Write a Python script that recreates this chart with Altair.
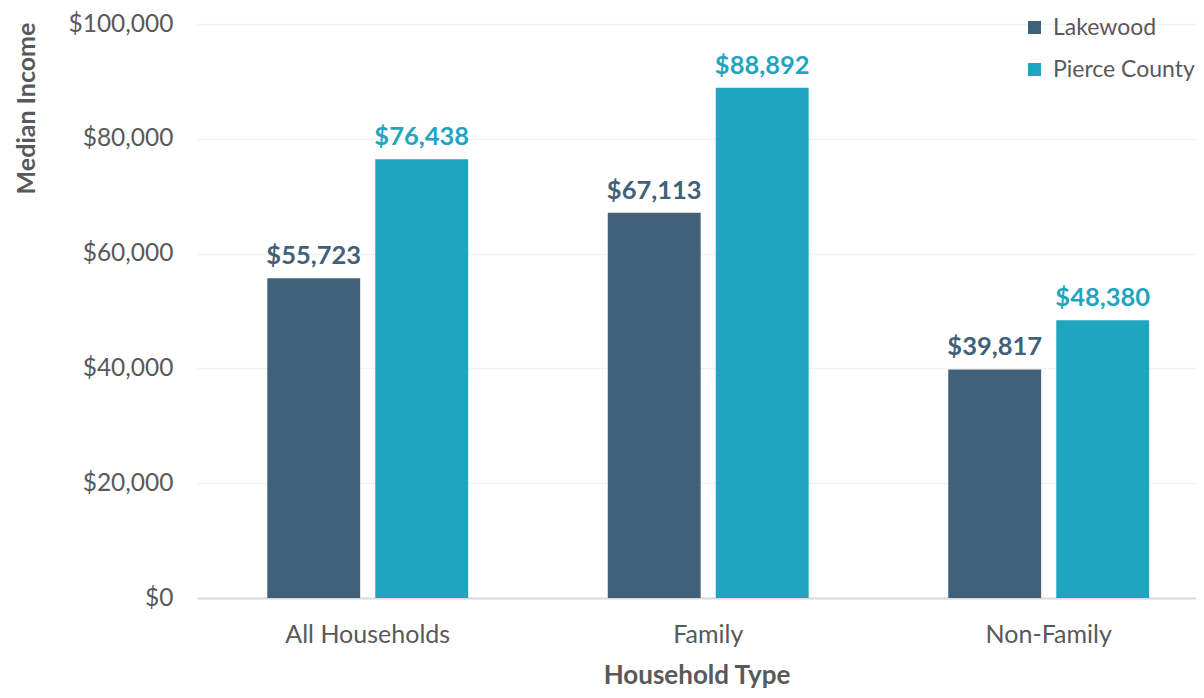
import altair as alt
import pandas as pd

categories = ["All Households", "Family", "Non-Family"]
series = ["Lakewood", "Pierce County"]
lakewood = [55723, 67113, 39817]
pierce = [76438, 88892, 48380]
colors = ["#41607a", "#1fa5bf"]

rows = []
for c, lv, pv in zip(categories, lakewood, pierce):
    rows.append({"type": c, "series": series[0], "value": lv})
    rows.append({"type": c, "series": series[1], "value": pv})
df = pd.DataFrame(rows)

FONT = "Lato"
GRAY = "#595959"

color_scale = alt.Scale(domain=series, range=colors)

base = alt.Chart(df).encode(
    x=alt.X(
        "type:N",
        sort=categories,
        scale=alt.Scale(paddingInner=0.41, paddingOuter=0.172, align=0.6),
        axis=alt.Axis(
            title="Household Type",
            labelAngle=0,
            labelFontSize=25,
            labelColor=GRAY,
            labelFont=FONT,
            labelPadding=24,
            titleFontSize=26,
            titleFont=FONT,
            titleFontWeight="bold",
            titleColor=GRAY,
            titlePadding=15,
            ticks=False,
            domainColor="#d9d9d9",
            domainWidth=2,
            grid=False,
        ),
    ),
    xOffset=alt.XOffset("series:N", sort=series, scale=alt.Scale(paddingInner=0.14)),
    y=alt.Y(
        "value:Q",
        scale=alt.Scale(domain=[0, 100000]),
        axis=alt.Axis(
            title="Median Income",
            values=[0, 20000, 40000, 60000, 80000, 100000],
            format="$,.0f",
            labelFontSize=24.5,
            labelColor=GRAY,
            labelFont=FONT,
            labelPadding=24,
            ticks=False,
            domain=False,
            gridColor="#f2f2f2",
            gridWidth=1.5,
            titleFontSize=25,
            titleFont=FONT,
            titleFontWeight="bold",
            titleColor=GRAY,
            titleX=-171,
            titleY=84,
            titleAlign="center",
            titleBaseline="middle",
            titleAngle=270,
        ),
    ),
)

bars = base.mark_bar().encode(
    color=alt.Color(
        "series:N",
        scale=color_scale,
        sort=series,
        legend=alt.Legend(
            title=None,
            orient="none",
            legendX=826,
            legendY=-8,
            symbolType="square",
            symbolSize=170,
            symbolStrokeWidth=0,
            labelFontSize=23,
            labelFont=FONT,
            labelColor=GRAY,
            rowPadding=18,
            padding=0,
            labelOffset=7,
        ),
    )
)

labels = base.mark_text(
    baseline="bottom", dy=-9, fontWeight="bold", fontSize=25.5, font=FONT
).encode(
    text=alt.Text("value:Q", format="$,.0f"),
    color=alt.Color("series:N", scale=color_scale, legend=None),
)

chart = (
    alt.layer(bars, labels)
    .properties(
        width=999,
        height=574,
        autosize=alt.AutoSizeParams(type="none"),
        padding={"left": 189, "top": 16, "right": 0, "bottom": 94},
    )
    .configure_view(stroke=None)
)

chart.save("out.html", embed_options={"renderer": "svg", "actions": False})
